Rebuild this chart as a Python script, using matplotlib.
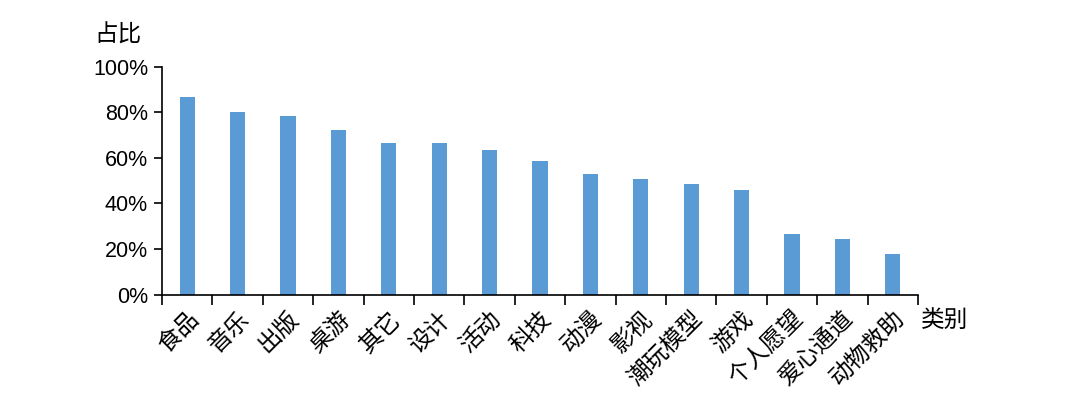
import numpy as np
import matplotlib
matplotlib.use("Agg")
import matplotlib.pyplot as plt
from matplotlib.ticker import PercentFormatter, FixedLocator

plt.rcParams["font.family"] = ["Liberation Sans", "Noto Sans CJK SC"]

CATEGORIES = ["食品", "音乐", "出版", "桌游", "其它", "设计", "活动", "科技",
              "动漫", "影视", "潮玩模型", "游戏", "个人愿望", "爱心通道", "动物救助"]
SHARE = [86.6, 80.0, 78.5, 72.2, 66.5, 66.6, 63.4, 58.6,
         52.7, 50.8, 48.5, 45.9, 26.6, 24.2, 17.9]

BAR_COLOR = "#5B9BD5"

fig = plt.figure(figsize=(10.8, 3.94), dpi=100)
ax = fig.add_axes([0.15, 0.2525, 0.70, 0.5782])

x = np.arange(len(CATEGORIES))
ax.bar(x, np.array(SHARE) / 100, width=0.3, color=BAR_COLOR)

ax.set_xlim(-0.5, len(CATEGORIES) - 0.5)
ax.set_ylim(0, 1)
ax.yaxis.set_major_locator(FixedLocator([0, 0.2, 0.4, 0.6, 0.8, 1.0]))
ax.yaxis.set_major_formatter(PercentFormatter(1.0, decimals=0))

# ticks sit between categories, labels under bar centres
ax.set_xticks(np.arange(-0.5, len(CATEGORIES)), minor=False)
ax.set_xticklabels([])
ax.set_xticks(x, minor=True)
ax.set_xticklabels(CATEGORIES, minor=True, rotation=45, ha="right",
                   rotation_mode="anchor", fontsize=17,
                   family=["Noto Sans CJK SC"])
ax.tick_params(axis="x", which="minor", length=0, pad=9)
ax.tick_params(axis="x", which="major", direction="out", length=7, width=1.2)
ax.tick_params(axis="y", direction="out", length=6, width=1.2, labelsize=15.5, pad=4)

for side in ("top", "right"):
    ax.spines[side].set_visible(False)
for side in ("left", "bottom"):
    ax.spines[side].set_linewidth(1.2)

fig.text(0.087, 0.895, "占比", fontsize=17, family=["Noto Sans CJK SC"])
fig.text(0.853, 0.17, "类别", fontsize=17, family=["Noto Sans CJK SC"])

fig.savefig("out.png", dpi=100)
